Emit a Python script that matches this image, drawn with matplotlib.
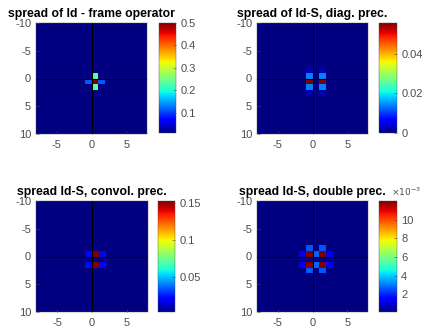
import numpy as np
import matplotlib
matplotlib.use("Agg")
import matplotlib.pyplot as plt

plt.rcParams['font.family'] = ['Liberation Sans', 'DejaVu Sans']

W, H = 423, 329

titles = ["spread of Id - frame operator", "spread of Id-S, diag. prec.",
          "spread Id-S, convol. prec.", "spread Id-S, double prec."]

# nonzero cells: left edge x, top edge y, value
p1_x = [0, 0, 0, -1, 1]
p1_y = [0, -1, 1, 0, 0]
p1_v = [0.5, 0.235, 0.235, 0.115, 0.115]
p1_bg = 0.01
p1_clim = (0.01, 0.5)
p1_ticks = [0.1, 0.2, 0.3, 0.4, 0.5]
p1_ticklabels = ["0.1", "0.2", "0.3", "0.4", "0.5"]

p2_x = [-1, 1, -1, 1, -1, 1, -1, 1, -1, 1]
p2_y = [0, 0, -1, -1, 1, 1, -2, -2, 2, 2]
p2_v = [0.0555, 0.0555, 0.014, 0.014, 0.014, 0.014, 0.0025, 0.0025, 0.0025, 0.0025]
p2_bg = 0.0
p2_clim = (0.0, 0.0555)
p2_ticks = [0.0, 0.02, 0.04]
p2_ticklabels = ["0", "0.02", "0.04"]

p3_x = [0, 0, -1, 1, -1, 1]
p3_y = [-1, 1, -1, -1, 1, 1]
p3_v = [0.153, 0.153, 0.02, 0.02, 0.02, 0.02]
p3_bg = 0.003
p3_clim = (0.003, 0.153)
p3_ticks = [0.05, 0.1, 0.15]
p3_ticklabels = ["0.05", "0.1", "0.15"]

p4_x = [-1, 1, -1, 1, -1, 1, -1, 1, 0, 0, -2, 2, -2, 2]
p4_y = [-1, -1, 1, 1, -2, -2, 2, 2, -1, 1, -1, -1, 1, 1]
p4_v = [0.012, 0.012, 0.012, 0.012, 0.0026, 0.0026, 0.0026, 0.0026,
        0.0028, 0.0028, 0.0013, 0.0013, 0.0013, 0.0013]
p4_bg = 0.00012
p4_clim = (0.00012, 0.012)
p4_ticks = [0.002, 0.004, 0.006, 0.008, 0.010]
p4_ticklabels = ["2", "4", "6", "8", "10"]

x_ticks = [-5, 0, 5]
y_ticks = [-10, -5, 0, 5, 10]

panels = [
    (p1_x, p1_y, p1_v, p1_bg, p1_clim, p1_ticks, p1_ticklabels),
    (p2_x, p2_y, p2_v, p2_bg, p2_clim, p2_ticks, p2_ticklabels),
    (p3_x, p3_y, p3_v, p3_bg, p3_clim, p3_ticks, p3_ticklabels),
    (p4_x, p4_y, p4_v, p4_bg, p4_clim, p4_ticks, p4_ticklabels),
]

ax_px = [(36, 23, 147, 134), (257, 23, 368, 134), (36, 201, 148, 312), (257, 201, 368, 312)]
cb_px = [(159, 23, 176, 133), (379, 23, 397, 133), (158, 201, 175, 312), (379, 201, 397, 312)]


def rect(l, t, r, b):
    return [l / W, 1 - b / H, (r - l) / W, (b - t) / H]


fig = plt.figure(figsize=(W / 100, H / 100), dpi=100)
xe = np.arange(-8, 9)
ye = np.arange(-10, 11)
gray = (0.3, 0.3, 0.3)

for i, (px, py, pv, bg, clim, cticks, ctl) in enumerate(panels):
    ax = fig.add_axes(rect(*ax_px[i]))
    Z = np.full((len(ye) - 1, len(xe) - 1), bg)
    for cx, cy, v in zip(px, py, pv):
        Z[cy + 10, cx + 8] = v
    m = ax.pcolormesh(xe, ye, Z, cmap='jet', vmin=clim[0], vmax=clim[1])
    ax.set_xlim(-8, 8)
    ax.set_ylim(10, -10)
    ax.axhline(0, color='k', lw=0.8)
    ax.axvline(0, color='k', lw=0.8)
    ax.set_xticks(x_ticks)
    ax.set_xticklabels([str(t) for t in x_ticks])
    ax.set_yticks(y_ticks)
    ax.set_yticklabels([str(t) for t in y_ticks])
    ax.tick_params(direction='in', length=2, width=0.4, labelsize=8, colors=gray)
    ax.tick_params(axis='y', pad=3.5)
    ax.tick_params(axis='x', pad=4.5)
    for s in ax.spines.values():
        s.set_linewidth(0.3)
        s.set_color(gray)
    ax.set_title(titles[i], fontsize=8.8, fontweight='bold', pad=4)

    cax = fig.add_axes(rect(*cb_px[i]))
    cb = fig.colorbar(m, cax=cax)
    cb.set_ticks(cticks)
    cb.set_ticklabels(ctl)
    cax.tick_params(direction='in', length=2, width=0.4, labelsize=8, colors=gray, pad=3)
    cb.outline.set_linewidth(0.3)
    cb.outline.set_edgecolor(gray)

fig.text(391 / W, 1 - 196 / H, r"$\times10^{-3}$", fontsize=6.5, color=gray,
         ha='left', va='baseline')

fig.savefig("out.png", dpi=100)
